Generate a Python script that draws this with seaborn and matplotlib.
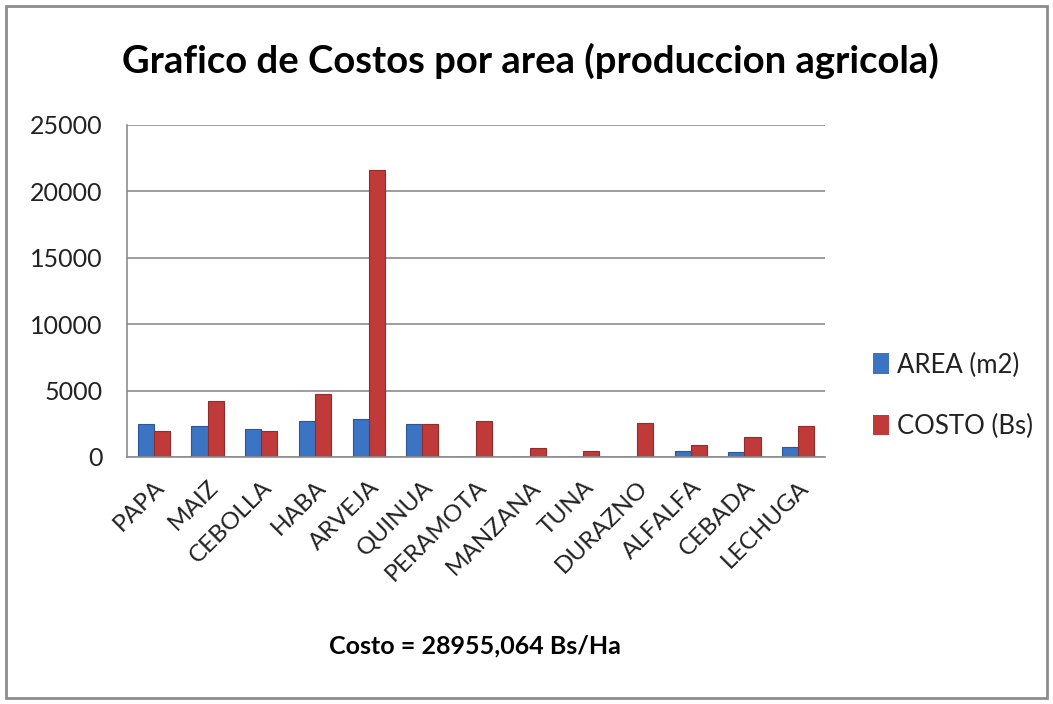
import matplotlib
matplotlib.use("Agg")
import matplotlib.pyplot as plt
import seaborn as sns
import pandas as pd
import numpy as np
from matplotlib.patches import Rectangle

categories = ["PAPA", "MAIZ", "CEBOLLA", "HABA", "ARVEJA", "QUINUA", "PERAMOTA",
              "MANZANA", "TUNA", "DURAZNO", "ALFALFA", "CEBADA", "LECHUGA"]
area_m2 = [2450, 2300, 2075, 2675, 2875, 2450, 30, 30, 30, 30, 475, 350, 775]
costo_bs = [1950, 4200, 1950, 4775, 21600, 2450, 2675, 675, 450, 2575, 900, 1500, 2325]
series_names = ["AREA (m2)", "COSTO (Bs)"]
y_ticks = [0, 5000, 10000, 15000, 20000, 25000]
title = "Grafico de Costos por area (produccion agricola)"
xlabel = "Costo = 28955,064 Bs/Ha"

df = pd.DataFrame({
    "cat": categories * 2,
    "serie": [series_names[0]] * len(categories) + [series_names[1]] * len(categories),
    "valor": area_m2 + costo_bs,
})

sns.set_theme(style="white")
plt.rcParams["font.family"] = ["Lato", "DejaVu Sans"]

fig = plt.figure(figsize=(10.53, 7.04), dpi=100)
ax = fig.add_axes([127 / 1053, 1 - 457 / 704, (825 - 127) / 1053, (457 - 125) / 704])

palette = {series_names[0]: "#3B74C2", series_names[1]: "#C03A3A"}
sns.barplot(data=df, x="cat", y="valor", hue="serie", palette=palette,
            width=0.6, gap=0, ax=ax, saturation=1, edgecolor="none", legend=True)

for p in ax.patches:
    if p.get_height() > 0:
        c = p.get_facecolor()
        p.set_edgecolor(tuple(np.array(c[:3]) * 0.75))
        p.set_linewidth(0.8)

ax.set_ylim(0, 25000)
ax.set_xlim(-0.5, len(categories) - 0.5)
ax.set_yticks(y_ticks)
ax.set_yticklabels([str(v) for v in y_ticks], fontsize=18, color="#222222")
ax.yaxis.grid(True, color="#8c8c8c", linewidth=1.2)
ax.set_axisbelow(True)

ax.set_xticks(range(len(categories)))
ax.set_xticklabels(categories, rotation=45, ha="right", rotation_mode="anchor",
                   fontsize=17.5, color="#222222")
ax.set_xticks(np.arange(-0.5, len(categories)), minor=True)
ax.tick_params(axis="x", which="major", length=0, pad=14)
ax.tick_params(axis="x", which="minor", length=7, color="#8c8c8c", width=1.2, direction="out")
ax.tick_params(axis="y", length=6.5, color="#8c8c8c", width=1.2, direction="out", pad=11)

for s in ["top", "right"]:
    ax.spines[s].set_visible(False)
for s in ["left", "bottom"]:
    ax.spines[s].set_color("#8c8c8c")
    ax.spines[s].set_linewidth(1.2)

ax.set_ylabel("")
ax.set_xlabel("")

leg = ax.legend(loc="center left", bbox_to_anchor=(1.035, 0.185), frameon=False,
                fontsize=18.5, handlelength=0.65, handleheight=0.85, handletextpad=0.3,
                labelspacing=1.4)
for t in leg.get_texts():
    t.set_color("#222222")

fig.text(530 / 1053, 1 - 61 / 704, title, ha="center", va="center",
         fontsize=27.5, fontweight="bold", color="#000000")
fig.text(475 / 1053, 1 - 646 / 704, xlabel, ha="center", va="center",
         fontsize=18, fontweight="bold", color="#000000")

fig.patches.append(Rectangle((6 / 1053, 6 / 704), 1 - 12 / 1053, 1 - 12 / 704,
                             transform=fig.transFigure, fill=False,
                             edgecolor="#8c8c8c", linewidth=2))

fig.savefig("out.png", dpi=100, facecolor="white")
